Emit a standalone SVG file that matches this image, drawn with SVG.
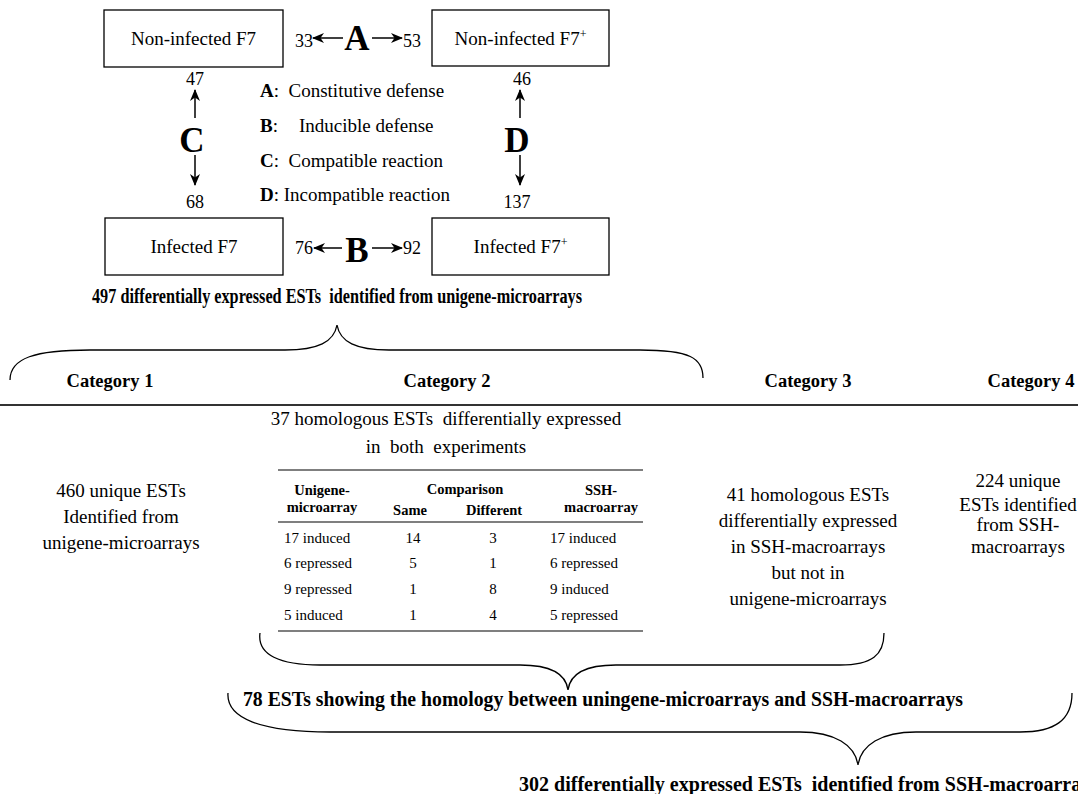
<svg xmlns="http://www.w3.org/2000/svg" width="1078" height="794" viewBox="0 0 1078 794">
<defs>
<marker id="ah" viewBox="0 0 12 10" refX="11" refY="5" markerWidth="12" markerHeight="10" markerUnits="userSpaceOnUse" orient="auto">
<path d="M0,0 L12,5 L0,10 L3.5,5 Z" fill="#000"/>
</marker>
</defs>
<style>
text{font-family:"Liberation Serif","Times New Roman",serif;fill:#000;white-space:pre}
.box{fill:#fff;stroke:#000;stroke-width:1.3}
.lbl{font-size:19px;text-anchor:middle}
.num{font-size:18px}
.big{font-size:35px;font-weight:bold;text-anchor:middle}
.leg{font-size:19px}
.arr{stroke:#000;stroke-width:1.5;fill:none;marker-end:url(#ah)}
.brace{stroke:#000;stroke-width:1.3;fill:none}
.hb{font-size:20px;font-weight:bold}
.cat{font-size:18.5px;font-weight:bold;text-anchor:middle}
.body{font-size:19px;text-anchor:middle}
.th{font-size:14.5px;font-weight:bold;text-anchor:middle}
.td{font-size:15px}
.tc{font-size:15px;text-anchor:middle}
.rule{stroke:#555;stroke-width:1.5}
</style>

<g id="node-noninfected-f7">
<rect class="box" x="104" y="10" width="179" height="57"/>
<text class="lbl" x="193.5" y="45">Non-infected F7</text>
</g>
<g id="node-noninfected-f7plus">
<rect class="box" x="432" y="10" width="177" height="56"/>
<text class="lbl" x="520.5" y="45">Non-infected F7<tspan font-size="12" dy="-7">+</tspan></text>
</g>
<g id="node-infected-f7">
<rect class="box" x="105" y="218" width="178" height="57"/>
<text class="lbl" x="194" y="253">Infected F7</text>
</g>
<g id="node-infected-f7plus">
<rect class="box" x="432" y="218" width="177" height="57"/>
<text class="lbl" x="520.5" y="253">Infected F7<tspan font-size="12" dy="-7">+</tspan></text>
</g>

<g id="connectors">
<line class="arr" x1="343" y1="38" x2="313" y2="38"/>
<line class="arr" x1="372" y1="38" x2="402" y2="38"/>
<line class="arr" x1="342" y1="248" x2="314" y2="248"/>
<line class="arr" x1="372" y1="248" x2="402" y2="248"/>
<line class="arr" x1="195" y1="118" x2="195" y2="90"/>
<line class="arr" x1="195" y1="155" x2="195" y2="185"/>
<line class="arr" x1="520" y1="118" x2="520" y2="90"/>
<line class="arr" x1="520" y1="155" x2="520" y2="185"/>
</g>

<g id="comparison-labels">
<text class="num" x="295" y="47">33</text>
<text class="big" x="357" y="50">A</text>
<text class="num" x="403" y="47">53</text>
<text class="num" x="295" y="254">76</text>
<text class="big" x="357" y="262">B</text>
<text class="num" x="403" y="254">92</text>
<text class="num" x="195" y="85" text-anchor="middle">47</text>
<text class="big" x="192" y="152">C</text>
<text class="num" x="195" y="208" text-anchor="middle">68</text>
<text class="num" x="522" y="85" text-anchor="middle">46</text>
<text class="big" x="517" y="152">D</text>
<text class="num" x="517" y="208" text-anchor="middle">137</text>
</g>

<g id="legend">
<text class="leg" x="260" y="97"><tspan font-weight="bold">A</tspan>:  Constitutive defense</text>
<text class="leg" x="260" y="132"><tspan font-weight="bold">B</tspan>:<tspan x="299">Inducible defense</tspan></text>
<text class="leg" x="260" y="167"><tspan font-weight="bold">C</tspan>:  Compatible reaction</text>
<text class="leg" x="260" y="201"><tspan font-weight="bold">D</tspan>: Incompatible reaction</text>
</g>

<g id="summary-497">
<text class="hb" x="92" y="303" textLength="490" lengthAdjust="spacingAndGlyphs">497 differentially expressed ESTs  identified from unigene-microarrays</text>
<path class="brace" d="M10,380 C10,358 35,350 90,350 L285,350 C318,350 334,342 337,325 C340,342 356,350 389,350 L640,350 C690,350 703,358 703,378"/>
</g>

<g id="categories">
<text class="cat" x="110" y="387">Category 1</text>
<text class="cat" x="447" y="387">Category 2</text>
<text class="cat" x="808" y="387">Category 3</text>
<text class="cat" x="1031" y="387">Category 4</text>
<line x1="0" y1="405" x2="1078" y2="405" stroke="#333" stroke-width="2"/>
</g>

<g id="category-1">
<text class="body" x="121" y="497">460 unique ESTs</text>
<text class="body" x="121" y="523">Identified from</text>
<text class="body" x="121" y="549">unigene-microarrays</text>
</g>

<g id="category-2">
<text class="body" x="446" y="425" font-size="19.5">37 homologous ESTs  differentially expressed</text>
<text class="body" x="446" y="453" font-size="19.5">in  both  experiments</text>
<line class="rule" x1="278" y1="470" x2="643" y2="470"/>
<text class="th" x="322" y="495">Unigene-</text>
<text class="th" x="322" y="512">microarray</text>
<text class="th" x="465" y="494">Comparison</text>
<text class="th" x="410" y="515">Same</text>
<text class="th" x="494" y="515">Different</text>
<text class="th" x="601" y="495">SSH-</text>
<text class="th" x="601" y="512">macroarray</text>
<line class="rule" x1="278" y1="522" x2="643" y2="522"/>
<text class="td" x="284" y="543">17 induced</text>
<text class="tc" x="413" y="543">14</text>
<text class="tc" x="493" y="543">3</text>
<text class="td" x="550" y="543">17 induced</text>
<text class="td" x="284" y="568">6 repressed</text>
<text class="tc" x="413" y="568">5</text>
<text class="tc" x="493" y="568">1</text>
<text class="td" x="550" y="568">6 repressed</text>
<text class="td" x="284" y="594">9 repressed</text>
<text class="tc" x="413" y="594">1</text>
<text class="tc" x="493" y="594">8</text>
<text class="td" x="550" y="594">9 induced</text>
<text class="td" x="284" y="620">5 induced</text>
<text class="tc" x="413" y="620">1</text>
<text class="tc" x="493" y="620">4</text>
<text class="td" x="550" y="620">5 repressed</text>
<line class="rule" x1="278" y1="631" x2="643" y2="631"/>
</g>

<g id="category-3">
<text class="body" x="808" y="501">41 homologous ESTs</text>
<text class="body" x="808" y="527">differentially expressed</text>
<text class="body" x="808" y="553">in SSH-macroarrays</text>
<text class="body" x="808" y="579">but not in</text>
<text class="body" x="808" y="605">unigene-microarrays</text>
</g>

<g id="category-4">
<text class="body" x="1018" y="487" font-size="17">224 unique</text>
<text class="body" x="1018" y="511" font-size="17">ESTs identified</text>
<text class="body" x="1018" y="531" font-size="17">from SSH-</text>
<text class="body" x="1018" y="553" font-size="17">macroarrays</text>
</g>

<g id="summary-78">
<path class="brace" d="M260,633 C257,655 280,665 320,665 L520,665 C550,665 566,674 568,690 C570,674 586,665 616,665 L840,665 C872,665 884,655 884,633"/>
<text class="hb" x="243" y="706" textLength="720" lengthAdjust="spacingAndGlyphs">78 ESTs showing the homology between uningene-microarrays and SSH-macroarrays</text>
</g>

<g id="summary-302">
<path class="brace" d="M228,693 C226,718 260,732 330,732 L800,732 C835,732 855,745 858,765 C861,745 881,732 916,732 L1020,732 C1055,732 1072,720 1072,693"/>
<text class="hb" x="519" y="791" textLength="580" lengthAdjust="spacingAndGlyphs">302 differentially expressed ESTs  identified from SSH-macroarrays</text>
</g>
</svg>
